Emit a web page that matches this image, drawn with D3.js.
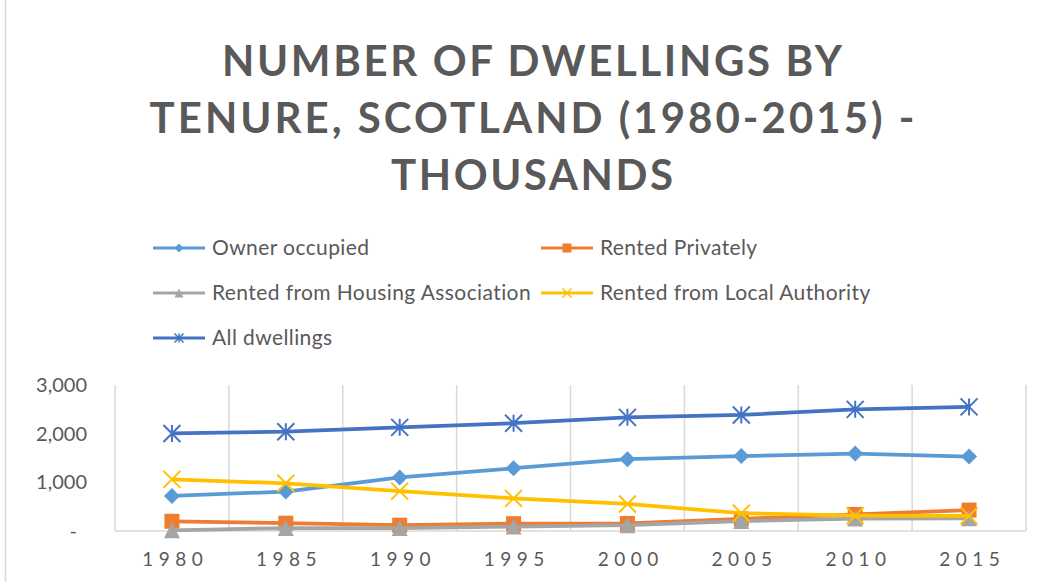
<!DOCTYPE html>
<html>
<head>
<meta charset="utf-8">
<script src="https://cdn.jsdelivr.net/npm/d3@7"></script>
<style>
  html, body { margin: 0; padding: 0; background: #fff; }
  svg { display: block; font-family: Lato, "Open Sans", sans-serif; }
</style>
</head>
<body>
<svg id="chart" width="1044" height="582"></svg>
<script>
/* ── Data (thousands of dwellings) ─────────────────────────────────────── */
const years        = ['1980','1985','1990','1995','2000','2005','2010','2015'];
const ownerOcc     = [720, 810, 1100, 1290, 1475, 1540, 1590, 1530];
const rentPrivate  = [200, 160, 120, 150, 155, 250, 340, 430];
const rentHA       = [15, 60, 60, 90, 120, 205, 255, 260];
const rentLA       = [1060, 980, 820, 670, 555, 365, 315, 310];
const allDwell     = [2005, 2040, 2130, 2215, 2335, 2385, 2500, 2550];
const yTicks       = [0, 1000, 2000, 3000];
const yTickLabels  = ['-', '1,000', '2,000', '3,000'];
const titleLines   = ['NUMBER OF DWELLINGS BY', 'TENURE, SCOTLAND (1980-2015) -', 'THOUSANDS'];

const SERIES = [
  { name: 'Owner occupied',                    values: ownerOcc,    color: '#5B9BD5', marker: 'diamond' },
  { name: 'Rented Privately',                  values: rentPrivate, color: '#ED7D31', marker: 'square' },
  { name: 'Rented from Housing Association',   values: rentHA,      color: '#A5A5A5', marker: 'triangle' },
  { name: 'Rented from Local Authority',       values: rentLA,      color: '#FFC000', marker: 'x' },
  { name: 'All dwellings',                     values: allDwell,    color: '#4472C4', marker: 'star' },
];

const TXT = '#595959', GRID = '#D9D9D9';
const FONT = 'Lato, "Open Sans", sans-serif';
const svg = d3.select('#chart');

/* ── Marker paths ──────────────────────────────────────────────────────── */
function markerPath(type, s) {
  const h = s / 2;
  switch (type) {
    case 'diamond':  return `M0,${-h}L${h},0L0,${h}L${-h},0Z`;
    case 'square':   return `M${-h},${-h}H${h}V${h}H${-h}Z`;
    case 'triangle': return `M0,${-h}L${h},${h}H${-h}Z`;
    case 'x':        return `M${-h},${-h}L${h},${h}M${h},${-h}L${-h},${h}`;
    case 'star':     return `M${-h},${-h}L${h},${h}M${h},${-h}L${-h},${h}M0,${-h}V${h}`;
  }
}
const isStroke = m => m === 'x' || m === 'star';
const MSIZE = { diamond: 16, square: 15, triangle: 16, x: 17, star: 17 };

/* ── Chart border (left edge visible) ──────────────────────────────────── */
svg.append('line').attr('x1', 5.5).attr('x2', 5.5).attr('y1', 0).attr('y2', 582)
   .attr('stroke', GRID).attr('stroke-width', 1.5);

/* ── Title ─────────────────────────────────────────────────────────────── */
const titleW = [620, 765, 282];
svg.append('g').selectAll('text').data(titleLines).join('text')
  .attr('x', 532).attr('y', (d, i) => 76 + i * 57)
  .attr('text-anchor', 'middle')
  .attr('font-size', 42).attr('font-weight', 700).attr('fill', TXT)
  .attr('textLength', (d, i) => titleW[i]).attr('lengthAdjust', 'spacing')
  .text(d => d);

/* ── Legend ────────────────────────────────────────────────────────────── */
const legPos = [[153, 248], [541, 248], [153, 293], [541, 293], [153, 338]];
const leg = svg.append('g').selectAll('g').data(SERIES).join('g')
  .attr('transform', (d, i) => `translate(${legPos[i][0]},${legPos[i][1]})`);
leg.append('line').attr('x1', 0).attr('x2', 52).attr('stroke', d => d.color).attr('stroke-width', 3);
leg.append('path').attr('transform', 'translate(26,0)')
  .attr('d', d => markerPath(d.marker, 9))
  .attr('fill', d => isStroke(d.marker) ? 'none' : d.color)
  .attr('stroke', d => d.color).attr('stroke-width', d => isStroke(d.marker) ? 1.5 : 0);
leg.append('text').attr('x', 59).attr('y', 7).attr('font-size', 21).attr('letter-spacing', 0.4)
  .attr('fill', TXT).text(d => d.name);

/* ── Scales ────────────────────────────────────────────────────────────── */
const x = d3.scalePoint().domain(years).range([115, 1026]).padding(0.5);
const y = d3.scaleLinear().domain([0, 3000]).range([531, 385]);
const step = x.step();

/* vertical gridlines at category boundaries */
const bounds = years.map(d => x(d) - step / 2).concat([x(years[years.length - 1]) + step / 2]);
svg.append('g').selectAll('line').data(bounds).join('line')
  .attr('x1', d => d).attr('x2', d => d).attr('y1', y(3000)).attr('y2', y(0))
  .attr('stroke', GRID).attr('stroke-width', 1.5);
svg.append('line').attr('x1', 115).attr('x2', 1026).attr('y1', y(0)).attr('y2', y(0))
  .attr('stroke', GRID).attr('stroke-width', 1.5);

/* y axis labels */
const yAx = svg.append('g').attr('transform', 'translate(87,0)')
  .call(d3.axisLeft(y).tickValues(yTicks).tickSize(0).tickPadding(0)
    .tickFormat((d, i) => yTickLabels[i]));
yAx.select('.domain').remove();
yAx.selectAll('text').attr('font-size', 20).attr('fill', TXT).attr('font-family', FONT)
  .attr('dx', d => d === 0 ? -10 : 0);

/* x axis labels */
const xAx = svg.append('g').attr('transform', `translate(0,${y(0)})`)
  .call(d3.axisBottom(x).tickSize(0).tickPadding(22));
xAx.select('.domain').remove();
xAx.selectAll('text').attr('font-size', 19).attr('fill', TXT).attr('font-family', FONT)
  .attr('letter-spacing', 5.5).attr('dx', 2.75);

/* ── Series ────────────────────────────────────────────────────────────── */
const line = d3.line().x((d, i) => x(years[i])).y(d => y(d));
const sg = svg.append('g').selectAll('g').data(SERIES).join('g');
sg.append('path').attr('d', d => line(d.values)).attr('fill', 'none')
  .attr('stroke', d => d.color).attr('stroke-width', 3.75).attr('stroke-linejoin', 'round');
sg.each(function(s) {
  d3.select(this).selectAll('path.m').data(s.values).join('path').attr('class', 'm')
    .attr('transform', (d, i) => `translate(${x(years[i])},${y(d)})`)
    .attr('d', markerPath(s.marker, MSIZE[s.marker]))
    .attr('fill', isStroke(s.marker) ? 'none' : s.color)
    .attr('stroke', s.color).attr('stroke-width', isStroke(s.marker) ? 2 : 0);
});
</script>
</body>
</html>
